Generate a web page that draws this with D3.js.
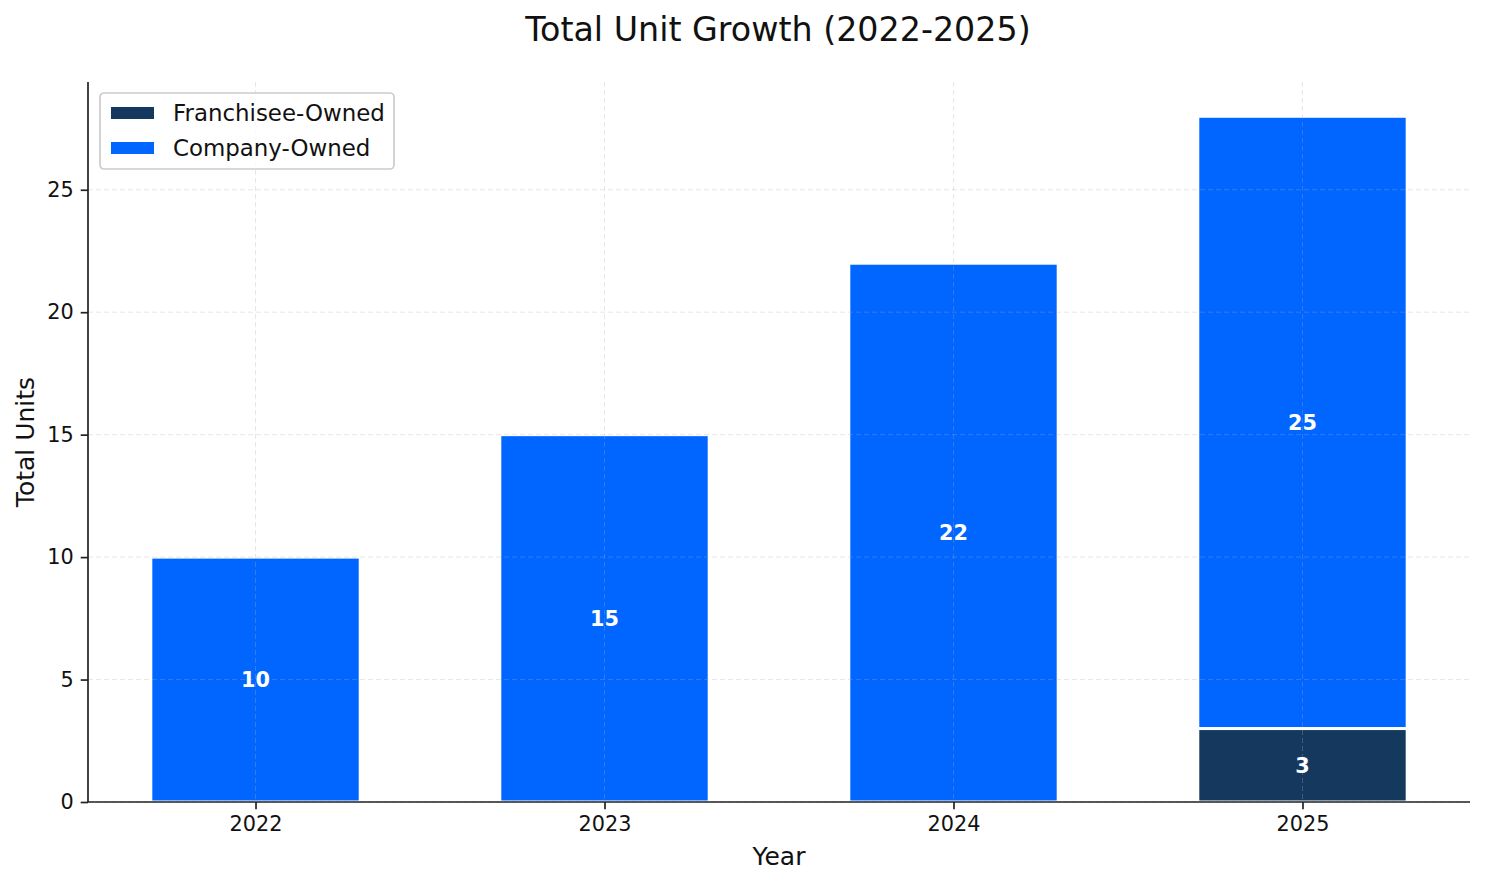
<!DOCTYPE html>
<html>
<head>
<meta charset="utf-8">
<script src="https://cdn.jsdelivr.net/npm/d3@7"></script>
<style>
  body { margin: 0; background: #fff; }
  svg { display: block; font-family: "DejaVu Sans", sans-serif; }
</style>
</head>
<body>
<svg id="chart" width="1485" height="884"></svg>
<script>
const years = ["2022", "2023", "2024", "2025"];
const franchiseeOwned = [0, 0, 0, 3];
const companyOwned = [10, 15, 22, 25];
const yTicks = [0, 5, 10, 15, 20, 25];
const seriesNames = ["Franchisee-Owned", "Company-Owned"];
const seriesColors = ["#15385f", "#0066ff"];

const W = 1485, H = 884;
const m = { left: 88, right: 15, top: 82, bottom: 82 };
const svg = d3.select("#chart");

const x = d3.scaleLinear().domain([-0.48, 3.48]).range([m.left, W - m.right]);
const y = d3.scaleLinear().domain([0, 29.4]).range([H - m.bottom, m.top]);
const barW = x(0.6) - x(0);

// bars
const stacks = years.map((yr, i) => ({
  i, yr,
  segs: [
    { s: 0, y0: 0, y1: franchiseeOwned[i], v: franchiseeOwned[i] },
    { s: 1, y0: franchiseeOwned[i], y1: franchiseeOwned[i] + companyOwned[i], v: companyOwned[i] }
  ]
}));

const barG = svg.append("g");
stacks.forEach(st => {
  st.segs.forEach(sg => {
    if (sg.v <= 0) return;
    barG.append("rect")
      .attr("x", x(st.i) - barW / 2)
      .attr("width", barW)
      .attr("y", y(sg.y1))
      .attr("height", y(sg.y0) - y(sg.y1))
      .attr("fill", seriesColors[sg.s])
      .attr("stroke", "#fff")
      .attr("stroke-width", 3);
  });
});

// grid (above bars)
const gridG = svg.append("g");
yTicks.forEach(t => {
  gridG.append("line")
    .attr("x1", m.left).attr("x2", W - m.right)
    .attr("y1", y(t)).attr("y2", y(t))
    .attr("stroke", "#b0b0b0").attr("stroke-opacity", 0.3)
    .attr("stroke-width", 1).attr("stroke-dasharray", "5,3");
});
years.forEach((yr, i) => {
  gridG.append("line")
    .attr("x1", x(i)).attr("x2", x(i))
    .attr("y1", m.top).attr("y2", H - m.bottom)
    .attr("stroke", "#b0b0b0").attr("stroke-opacity", 0.3)
    .attr("stroke-width", 1).attr("stroke-dasharray", "5,3");
});

// value labels
stacks.forEach(st => {
  st.segs.forEach(sg => {
    if (sg.v <= 0) return;
    svg.append("text")
      .attr("x", x(st.i))
      .attr("y", y((sg.y0 + sg.y1) / 2))
      .attr("dy", "0.36em")
      .attr("text-anchor", "middle")
      .attr("fill", "#fff")
      .attr("font-weight", "bold")
      .attr("font-size", 20.8)
      .text(sg.v);
  });
});

// axes
const xAxis = d3.axisBottom(x).tickValues(years.map((d, i) => i))
  .tickFormat(i => years[i]).tickSize(7.3).tickPadding(7);
const yAxis = d3.axisLeft(y).tickValues(yTicks).tickSize(7.3).tickPadding(7);

const gx = svg.append("g").attr("transform", `translate(0,${H - m.bottom})`).call(xAxis);
const gy = svg.append("g").attr("transform", `translate(${m.left},0)`).call(yAxis);
[gx, gy].forEach(g => {
  g.select(".domain").attr("stroke", "#222").attr("stroke-width", 1.7);
  g.selectAll(".tick line").attr("stroke", "#222").attr("stroke-width", 1.7);
  g.selectAll(".tick text").attr("font-size", 20.8).attr("fill", "#111")
    .attr("font-family", "DejaVu Sans");
});
gx.select(".domain").attr("d", `M${m.left},0H${W - m.right}`);
gy.select(".domain").attr("d", `M0,${H - m.bottom}V${m.top}`);

// titles
svg.append("text").attr("x", (m.left + W - m.right) / 2 - 1).attr("y", 41)
  .attr("text-anchor", "middle").attr("font-size", 33.3).attr("fill", "#111")
  .text("Total Unit Growth (2022-2025)");
svg.append("text").attr("x", (m.left + W - m.right) / 2).attr("y", 865)
  .attr("text-anchor", "middle").attr("font-size", 25).attr("fill", "#111")
  .text("Year");
svg.append("text")
  .attr("transform", `translate(34,${(m.top + H - m.bottom) / 2}) rotate(-90)`)
  .attr("text-anchor", "middle").attr("font-size", 25).attr("fill", "#111")
  .text("Total Units");

// legend
const lg = svg.append("g").attr("transform", "translate(100,93)");
lg.append("rect").attr("width", 294).attr("height", 76).attr("rx", 4)
  .attr("fill", "#fff").attr("fill-opacity", 0.8)
  .attr("stroke", "#cccccc").attr("stroke-width", 1.7);
seriesNames.forEach((name, k) => {
  const cy = 20 + k * 35;
  lg.append("rect").attr("x", 11).attr("y", cy - 6).attr("width", 43).attr("height", 12)
    .attr("fill", seriesColors[k]);
  lg.append("text").attr("x", 73).attr("y", cy).attr("dy", "0.36em")
    .attr("font-size", 22.9).attr("fill", "#111").text(name);
});
</script>
</body>
</html>
